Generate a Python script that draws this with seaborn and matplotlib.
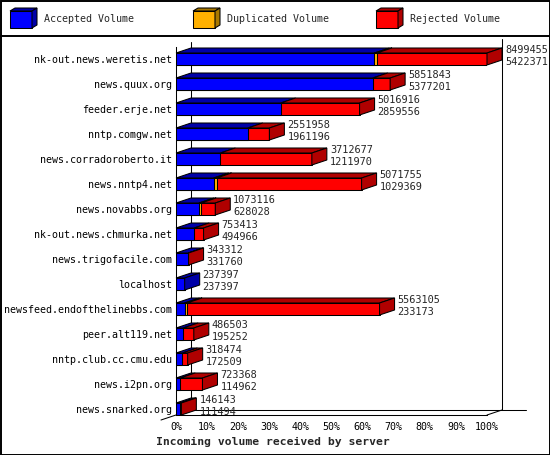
import matplotlib
matplotlib.use('Agg')
import matplotlib.pyplot as plt
from matplotlib.patches import Polygon, Rectangle
from matplotlib.lines import Line2D
import pandas as pd
import seaborn as sns

servers = [
    'nk-out.news.weretis.net', 'news.quux.org', 'feeder.erje.net', 'nntp.comgw.net',
    'news.corradoroberto.it', 'news.nntp4.net', 'news.novabbs.org', 'nk-out.news.chmurka.net',
    'news.trigofacile.com', 'localhost', 'newsfeed.endofthelinebbs.com', 'peer.alt119.net',
    'nntp.club.cc.cmu.edu', 'news.i2pn.org', 'news.snarked.org',
]
total_volume = [8499455, 5851843, 5016916, 2551958, 3712677, 5071755, 1073116, 753413,
                343312, 237397, 5563105, 486503, 318474, 723368, 146143]
accepted_volume = [5422371, 5377201, 2859556, 1961196, 1211970, 1029369, 628028, 494966,
                   331760, 237397, 233173, 195252, 172509, 114962, 111494]
# duplicated volume is not printed, estimated from the thin orange slivers
duplicated_volume = [70000, 0, 0, 0, 0, 80000, 60000, 0, 0, 0, 70000, 0, 0, 0, 0]

BLUE, BLUE_D = '#0000ff', '#0000a8'
ORANGE, ORANGE_D = '#ffb000', '#a87800'
RED, RED_D = '#ff0000', '#b00000'

df = pd.DataFrame({'server': servers, 'total': total_volume,
                   'accepted': accepted_volume, 'dup': duplicated_volume})
peak = df['total'].max()
df['acc_pct'] = df['accepted'] / peak * 100
df['accdup_pct'] = (df['accepted'] + df['dup']) / peak * 100
df['total_pct'] = df['total'] / peak * 100

sns.set_style('white')
plt.rcParams['font.family'] = ['DejaVu Sans Mono']
FS = 7.2
LW = 0.75

W, H = 550, 455
fig = plt.figure(figsize=(W / 100, H / 100), dpi=100)
ax = fig.add_axes([176 / W, 40 / H, 311 / W, 368.5 / H])

BAR_H = 0.48
for col, color in [('total_pct', RED), ('accdup_pct', ORANGE), ('acc_pct', BLUE)]:
    sns.barplot(data=df, x=col, y='server', orient='y', color=color, saturation=1,
                width=BAR_H, edgecolor='black', linewidth=LW, ax=ax, zorder=3)

n = len(servers)
floor = n - 1 + BAR_H / 2
ax.set_xlim(0, 100)
ax.set_ylim(floor, -0.5)
ax.set_xlabel('')
ax.set_ylabel('')

# pseudo 3d depth (15 px right, 5 px up)
dx = 15 * 100 / 311
dy = 5 / 25

for i, row in df.iterrows():
    ytop, ybot = i - BAR_H / 2, i + BAR_H / 2
    segs = [(0, row['acc_pct'], BLUE_D), (row['acc_pct'], row['accdup_pct'], ORANGE_D),
            (row['accdup_pct'], row['total_pct'], RED_D)]
    last = BLUE_D
    for x0, x1, c in segs:
        if x1 - x0 <= 0:
            continue
        last = c
        ax.add_patch(Polygon([(x0, ytop), (x1, ytop), (x1 + dx, ytop - dy), (x0 + dx, ytop - dy)],
                             closed=True, fc=c, ec='black', lw=LW, zorder=3.5, clip_on=False))
    t = row['total_pct']
    ax.add_patch(Polygon([(t, ytop), (t + dx, ytop - dy), (t + dx, ybot - dy), (t, ybot)],
                         closed=True, fc=last, ec='black', lw=LW, zorder=3.5, clip_on=False))
    ax.annotate(f"{row['total']}\n{row['accepted']}", xy=(t, i), xytext=(18 * 0.72, 3 * 0.72),
                textcoords='offset points', ha='left', va='center', fontsize=7.4,
                linespacing=1.15, annotation_clip=False, zorder=4)

# back walls and floor
lk = dict(color='black', lw=LW, zorder=1, clip_on=False)
ax.add_line(Line2D([dx, dx], [-0.5 - dy, floor - dy], **lk))
ax.add_line(Line2D([100 + dx, 100 + dx], [-0.5 - dy - 0.1, floor - dy], **lk))
ax.add_line(Line2D([dx, 100 + dx + 7.7], [floor - dy, floor - dy], **lk))
ax.add_line(Line2D([100, 100 + dx], [floor, floor - dy], **lk))
ax.add_line(Line2D([0, -dx], [floor, floor + dy], **lk))

sns.despine(ax=ax, top=True, right=True)
for s in ['left', 'bottom']:
    ax.spines[s].set_linewidth(LW)
    ax.spines[s].set_color('black')
ax.set_xticks(range(0, 101, 10))
ax.set_xticklabels([f'{v}%' for v in range(0, 101, 10)], fontsize=FS)
ax.tick_params(axis='x', direction='out', length=2.9, width=LW, pad=2, colors='black')
ax.tick_params(axis='y', length=0, pad=3, labelsize=FS, colors='black')
ax.patch.set_alpha(0)

fig.text(156 / W, 1 - 442 / H, 'Incoming volume received by server', ha='left', va='center',
         fontsize=8.2, fontweight='bold')

# header legend with little cubes
def px(x, y):
    return (x / W, 1 - y / H)

legend_items = [('Accepted Volume', BLUE, BLUE_D), ('Duplicated Volume', ORANGE, ORANGE_D),
                ('Rejected Volume', RED, RED_D)]
for k, (label, c, cd) in enumerate(legend_items):
    x0 = 10 + 183 * k
    pk = dict(closed=True, ec='black', lw=LW, transform=fig.transFigure)
    fig.patches.append(Polygon([px(x0, 11), px(x0 + 22, 11), px(x0 + 22, 28), px(x0, 28)], fc=c, **pk))
    fig.patches.append(Polygon([px(x0, 11), px(x0 + 22, 11), px(x0 + 27, 8), px(x0 + 5, 8)], fc=cd, **pk))
    fig.patches.append(Polygon([px(x0 + 22, 11), px(x0 + 27, 8), px(x0 + 27, 25), px(x0 + 22, 28)], fc=cd, **pk))
    fig.text(*px(x0 + 34, 19.5), label, ha='left', va='center', fontsize=FS)

fig.add_artist(Line2D([0, 1], [1 - 35.5 / H] * 2, color='black', lw=1.4, transform=fig.transFigure))
fig.patches.append(Rectangle((0.5 / W, 0.5 / H), 1 - 1 / W, 1 - 1 / H, fill=False, ec='black',
                             lw=1.4, transform=fig.transFigure))

fig.savefig('out.png', dpi=100, facecolor='white')
